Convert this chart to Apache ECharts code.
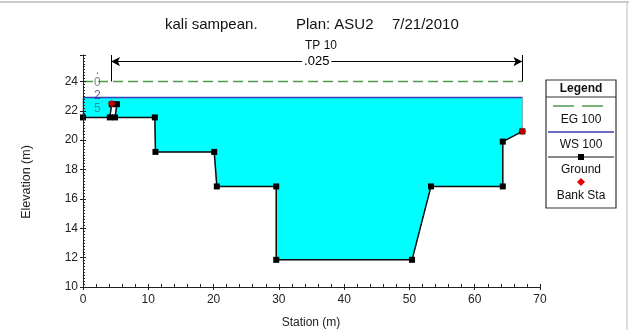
<!DOCTYPE html>
<html>
<head>
<meta charset="utf-8">
<script src="https://cdn.jsdelivr.net/npm/echarts@6/dist/echarts.min.js"></script>
<style>html,body{margin:0;padding:0;background:#fff}#c{width:629px;height:330px}</style>
</head>
<body>
<div id="c"></div>
<script>
// ---- data ----
const groundStation = [0, 4.1, 4.4, 5.2, 4.9, 11.0, 11.1, 20.1, 20.5, 29.6, 29.6, 50.4, 53.3, 64.3, 64.3, 67.3];
const groundElev    = [21.55, 21.55, 22.45, 22.45, 21.55, 21.55, 19.2, 19.2, 16.85, 16.85, 11.85, 11.85, 16.85, 16.85, 19.9, 20.6];
const wsStation = [0, 67.3];
const wsElev = [22.9, 22.9];
const egStation = [0, 67.3];
const egElev = [24.0, 24.0];
const bankStation = [4.4, 67.3];
const bankElev = [22.5, 20.6];
const nValueLabel = '.025';
const nValueFrom = 4.3, nValueTo = 67.3;
const profileLabels = ['.', '0', '2', '5'];
const profileLabelElev = [24.75, 23.9, 23.05, 22.15];
const profileLabelColors = ['#555', '#4f6f5f', '#33338a', '#2f7f7f'];
const xTicks = [0, 10, 20, 30, 40, 50, 60, 70];
const yTicks = [10, 12, 14, 16, 18, 20, 22, 24];

const zip = (a, b) => a.map((v, i) => [v, b[i]]);
const FONT = '"Liberation Sans", Arial, sans-serif';

// water polygon: WS line then ground profile reversed
const ws = zip(wsStation, wsElev);
const gr = zip(groundStation, groundElev);
const waterPoly = ws.concat(gr.slice().reverse());

const xBase = {type: 'value', min: xTicks[0], max: xTicks[xTicks.length - 1], interval: 10, z: 10, position: 'bottom', splitLine: {show: false}};
const yBase = {type: 'value', min: yTicks[0], max: 25.8, interval: 2, z: 10, position: 'left', splitLine: {show: false}};
const axColor = '#222';

const chart = echarts.init(document.getElementById('c'), null, {renderer: 'canvas'});
const option = {
  animation: false,
  backgroundColor: '#fff',
  grid: {left: 83, right: 89, top: 55, bottom: 43},
  xAxis: [
    Object.assign({}, xBase, {
      axisLine: {show: true, lineStyle: {color: axColor, width: 1}},
      axisTick: {show: true, inside: true, length: 3, lineStyle: {color: axColor}},
      minorTick: {show: true, splitNumber: 5, length: 3, lineStyle: {color: axColor}},
      axisLabel: {color: axColor, fontFamily: FONT, fontSize: 12, margin: 7}
    }),
    Object.assign({}, xBase, {
      axisLine: {show: false},
      axisTick: {show: true, inside: false, length: 3, lineStyle: {color: axColor}},
      axisLabel: {show: false}
    })
  ],
  yAxis: [
    Object.assign({}, yBase, {
      axisLine: {show: true, lineStyle: {color: axColor, width: 1}},
      axisTick: {show: true, inside: true, length: 3, lineStyle: {color: axColor}},
      minorTick: {show: true, splitNumber: 10, length: 2, lineStyle: {color: axColor}},
      axisLabel: {color: axColor, fontFamily: FONT, fontSize: 12, margin: 5,
        formatter: v => (yTicks.indexOf(v) >= 0 ? String(v) : '')}
    }),
    Object.assign({}, yBase, {
      axisLine: {show: false},
      axisTick: {show: true, inside: false, length: 3, lineStyle: {color: axColor},
        interval: (i, v) => yTicks.indexOf(+v) >= 0},
      axisLabel: {show: false}
    })
  ],
  series: [
    { // water fill between WS and ground
      type: 'custom', z: 1, silent: true, data: [[wsStation[0], wsElev[0]]],
      renderItem: (params, api) => ({
        type: 'polygon',
        shape: {points: waterPoly.map(p => api.coord(p))},
        style: {fill: '#00FFFF', stroke: '#6f8f9f', lineWidth: 0.8}
      })
    },
    { // EG
      name: 'EG 100', type: 'line', data: zip(egStation, egElev), showSymbol: false, z: 4,
      lineStyle: {color: '#4f9a4f', width: 1.5, type: [10, 5]},
      markLine: {
        silent: true, symbol: 'none', animation: false,
        lineStyle: {color: '#000', type: 'solid', width: 1},
        label: {show: false},
        data: [
          [{coord: [nValueFrom, 24.0]}, {coord: [nValueFrom, 25.8]}],
          [{coord: [nValueTo, 24.0]}, {coord: [nValueTo, 25.8]}],
          [{coord: [nValueFrom, 25.35], symbol: 'arrow', symbolSize: [7, 9]},
           {coord: [nValueTo, 25.35], symbol: 'arrow', symbolSize: [7, 9],
            label: {show: true, position: 'middle', formatter: nValueLabel, color: '#000',
              fontFamily: FONT, fontSize: 13, backgroundColor: '#fff', padding: [1, 2],
              distance: 0, verticalAlign: 'middle'}}]
        ]
      }
    },
    { // WS
      name: 'WS 100', type: 'line', data: ws, showSymbol: false, z: 5,
      lineStyle: {color: '#3c3cb4', width: 1.5}
    },
    { // ground line
      name: 'Ground', type: 'line', data: gr, z: 6,
      symbol: 'rect', symbolSize: 6, showSymbol: true, showAllSymbol: true,
      itemStyle: {color: '#000'}, lineStyle: {color: '#111', width: 1.5}
    },
    { // bank stations
      name: 'Bank Sta', type: 'scatter', data: zip(bankStation, bankElev), z: 7,
      symbol: 'diamond', symbolSize: 8, itemStyle: {color: '#ee0000'}
    },
    { // profile labels
      type: 'scatter', z: 8, symbolSize: 0, silent: true,
      data: profileLabels.map((t, i) => ({value: [2.2, profileLabelElev[i]], name: t,
        label: {color: profileLabelColors[i]}})),
      label: {show: true, position: 'inside', formatter: p => p.name, fontFamily: FONT, fontSize: 12}
    }
  ],
  graphic: [
    {type: 'line', shape: {x1: 0, y1: 2, x2: 629, y2: 2}, style: {stroke: '#999', lineWidth: 1}},
    {type: 'line', shape: {x1: 627, y1: 2, x2: 627, y2: 330}, style: {stroke: '#bbb', lineWidth: 1}},
    {type: 'text', left: 165, top: 17, style: {text: 'kali sampean.', font: '15px ' + FONT, fill: '#111'}},
    {type: 'text', left: 296, top: 17, style: {text: 'Plan: ASU2', font: '15px ' + FONT, fill: '#111'}},
    {type: 'text', left: 392, top: 17, style: {text: '7/21/2010', font: '15px ' + FONT, fill: '#111'}},
    {type: 'text', left: 305, top: 40, style: {text: 'TP 10', font: '12px ' + FONT, fill: '#111'}},
    {type: 'text', x: 311, y: 323, style: {text: 'Station (m)', font: '12px ' + FONT, fill: '#222', align: 'center', verticalAlign: 'middle'}},
    {type: 'text', x: 27, y: 182, rotation: Math.PI / 2, style: {text: 'Elevation (m)', font: '12.5px ' + FONT, fill: '#222', align: 'center', verticalAlign: 'middle'}},
    // legend
    {type: 'rect', shape: {x: 546, y: 80, width: 70, height: 128}, style: {fill: '#fff', stroke: '#333', lineWidth: 1.2}, z: 20},
    {type: 'text', x: 581, y: 89, z: 21, style: {text: 'Legend', font: 'bold 12px ' + FONT, fill: '#111', align: 'center', verticalAlign: 'middle'}},
    {type: 'line', z: 21, shape: {x1: 546, y1: 97, x2: 616, y2: 97}, style: {stroke: '#333', lineWidth: 1}},
    {type: 'line', z: 21, shape: {x1: 553, y1: 106, x2: 610, y2: 106}, style: {stroke: '#4f9a4f', lineWidth: 1.5, lineDash: [21, 8]}},
    {type: 'text', x: 581, y: 120, z: 21, style: {text: 'EG 100', font: '12px ' + FONT, fill: '#111', align: 'center', verticalAlign: 'middle'}},
    {type: 'line', z: 21, shape: {x1: 548, y1: 132, x2: 614, y2: 132}, style: {stroke: '#3c3cb4', lineWidth: 1.5}},
    {type: 'text', x: 581, y: 145, z: 21, style: {text: 'WS 100', font: '12px ' + FONT, fill: '#111', align: 'center', verticalAlign: 'middle'}},
    {type: 'line', z: 21, shape: {x1: 548, y1: 157, x2: 614, y2: 157}, style: {stroke: '#111', lineWidth: 1.2}},
    {type: 'rect', z: 22, shape: {x: 578, y: 154, width: 6, height: 6}, style: {fill: '#000'}},
    {type: 'text', x: 581, y: 170, z: 21, style: {text: 'Ground', font: '12px ' + FONT, fill: '#111', align: 'center', verticalAlign: 'middle'}},
    {type: 'polygon', z: 21, shape: {points: [[581, 178], [585, 182], [581, 186], [577, 182]]}, style: {fill: '#ee0000'}},
    {type: 'text', x: 581, y: 196, z: 21, style: {text: 'Bank Sta', font: '12px ' + FONT, fill: '#111', align: 'center', verticalAlign: 'middle'}}
  ]
};
chart.setOption(option);
</script>
</body>
</html>
